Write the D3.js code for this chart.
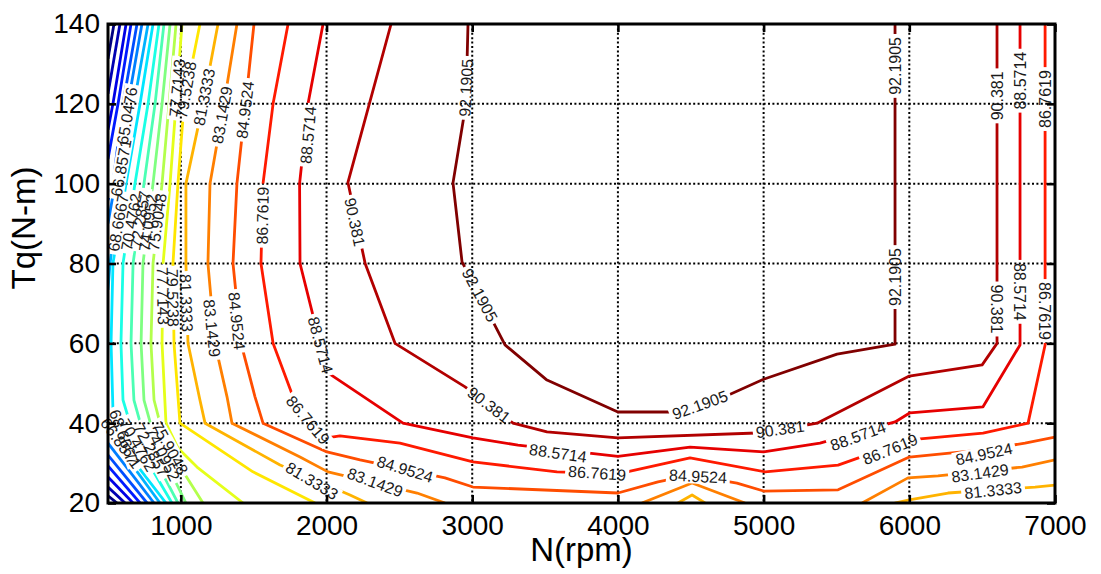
<!DOCTYPE html>
<html>
<head>
<meta charset="utf-8">
<script src="https://cdn.jsdelivr.net/npm/d3@7"></script>
<style>
  body { margin: 0; background: #fff; }
  svg { font-family: "Liberation Sans", Arial, Helvetica, sans-serif; }
</style>
</head>
<body>
<div id="chart"></div>
<script>
// contour levels (efficiency, %)
const levels = [56, 57.8095, 59.619, 61.4286, 63.2381, 65.0476, 66.8571, 68.6667, 70.4762,
  72.2857, 74.0952, 75.9048, 77.7143, 79.5238, 81.3333, 83.1429, 84.9524, 86.7619,
  88.5714, 90.381, 92.1905];

const xTicks = [1000, 2000, 3000, 4000, 5000, 6000, 7000];
const yTicks = [20, 40, 60, 80, 100, 120, 140];

// contour segments, points are [N (rpm), Tq (N-m)]
const c56 = [[[541, 140], [500, 131.3]], [[500, 21.8], [562, 20]]];
const c57 = [[[582, 140], [500, 122.5]], [[500, 24], [617, 20]]];
const c59 = [[[624, 140], [534, 120], [500, 113.5]], [[500, 26.5], [672, 20]]];
const c61 = [[[658, 140], [569, 120], [500, 106.2]], [[500, 29.3], [720, 20]]];
const c63 = [[[699, 140], [603, 120], [534, 100], [500, 95.9]], [[500, 32], [768, 20]]];
const c65 = [[[733, 140], [637, 120], [548, 100], [500, 90]], [[500, 35], [816, 20]]];
const c66 = [[[775, 140], [678, 120], [582, 100], [514, 80], [500, 73.4]], [[500, 37.8], [857, 20]]];
const c68 = [[[809, 140], [720, 120], [624, 100], [534, 80], [521, 60], [534, 43.3], [617, 33.3], [898, 20]]];
const c70 = [[[850, 140], [775, 120], [685, 100], [603, 80], [589, 60], [603, 45.8], [685, 35.8], [939, 20]]];
const c72 = [[[884, 140], [823, 120], [747, 100], [672, 80], [658, 60], [678, 45.8], [754, 35.8], [980, 20]]];
const c74 = [[[926, 140], [871, 120], [809, 100], [740, 80], [727, 60], [747, 45.8], [823, 35.8], [1035, 20]]];
const c75 = [[[967, 140], [919, 120], [871, 100], [809, 80], [795, 60], [816, 45.8], [878, 37], [1008, 28.3], [1152, 20]]];
const c77 = [[[1008, 140], [967, 120], [926, 100], [878, 80], [871, 60], [898, 40], [980, 33.8], [1111, 29], [1427, 20]]];
const c79 = [[[1131, 140], [1022, 120], [980, 100], [946, 80], [953, 60], [994, 40], [1495, 27.8], [1921, 20]]];
const c81 = [
  [[1255, 140], [1152, 120], [1035, 100], [1035, 80], [1049, 60], [1131, 45.8], [1166, 40], [1681, 29.5], [2161, 22], [2278, 20]],
  [[4412, 20], [4509, 22], [4598, 20]],
  [[5900, 20], [6000, 20.8], [6266, 22.5], [6863, 24], [7000, 24.5]]
];
const c83 = [
  [[1385, 140], [1296, 120], [1200, 100], [1186, 80], [1234, 60], [1317, 46.6], [1351, 40], [1818, 31.5], [2010, 27.8], [2621, 22.5], [2813, 20]],
  [[4165, 20], [4509, 25], [4872, 20]],
  [[5676, 20], [5991, 26.3], [6197, 26.8], [6774, 29], [7000, 30.8]]
];
const c84 = [[[1502, 140], [1444, 120], [1385, 100], [1358, 80], [1413, 60], [1509, 46.6], [1564, 40], [2003, 32.8],
  [2230, 30.8], [2813, 26.3], [3005, 24], [4000, 22.5], [4275, 25.3], [4500, 27], [4817, 25], [5000, 23], [5511, 23.3],
  [6000, 31.5], [6500, 33.3], [6794, 35], [7000, 36.5]]];
const c86 = [[[1736, 140], [1633, 120], [1564, 100], [1550, 80], [1633, 60], [1770, 46.6], [2003, 36.3], [2092, 36.8],
  [2504, 35], [3005, 30.3], [3582, 27.8], [4000, 27.3], [4495, 31.3], [5010, 27.8], [5511, 29.5], [6000, 35.8],
  [6506, 37.5], [6815, 40], [6932, 59.6], [6932, 140]]];
const c88 = [[[1976, 140], [1873, 120], [1815, 100], [1818, 80], [1955, 60], [2010, 52.6], [2525, 40], [3005, 36.3],
  [3314, 34.5], [4000, 31.7], [4495, 34], [5000, 32.8], [5387, 35], [5902, 40.3], [6005, 42.6], [6506, 44.1],
  [6760, 59.6], [6760, 140]]];
const c90 = [[[2443, 140], [2147, 100.3], [2265, 80], [2470, 60], [2951, 49.1], [3280, 40], [3513, 37.8], [4000, 36.3],
  [5000, 37.6], [5367, 40], [6000, 51.8], [6500, 54.6], [6602, 60], [6602, 140]]];
const c92 = [[[2971, 140], [2957, 120], [2868, 100.2], [2930, 80.4], [3225, 59.6], [3513, 50.8], [4000, 42.8],
  [4500, 42.8], [5000, 51], [5504, 57.3], [5902, 59.8], [5902, 140]]];

const contours = [c56, c57, c59, c61, c63, c65, c66, c68, c70, c72, c74, c75, c77, c79, c81, c83, c84, c86, c88, c90, c92];

// inline labels: [level, N, Tq, angle]
const labels = [
  [65.0476, 630, 117, -80], [66.8571, 589, 104, -80], [68.6667, 569, 90.2, -80], [70.4762, 658, 90.4, -80],
  [72.2857, 720, 91, -81], [74.0952, 775, 90.2, -82], [75.9048, 836, 90.4, -82],
  [77.7143, 974, 124, -85], [79.5238, 1035, 123.5, -80], [81.3333, 1159, 121.7, -79], [83.1429, 1282, 117.2, -80],
  [84.9524, 1440, 118.5, -83], [86.7619, 1560, 92, -89], [88.5714, 1873, 112.2, -85], [90.381, 2195, 90.4, 78],
  [92.1905, 2957, 124, -87],
  [77.7143, 878, 71.9, 89], [79.5238, 946, 71.4, 89], [81.3333, 1039, 70.1, 88], [83.1429, 1214, 63.8, 84],
  [84.9524, 1385, 65.6, 84], [86.7619, 1873, 40.8, 50], [88.5714, 1959, 59.6, 75], [90.381, 3115, 44.6, 37],
  [92.1905, 3053, 72.1, 62],
  [81.3333, 1900, 25.6, 31], [83.1429, 2333, 25.2, 20], [84.9524, 2539, 28.5, 17], [86.7619, 3857, 27.5, 4],
  [88.5714, 3589, 32.5, 8], [90.381, 5113, 38.5, -8], [92.1905, 4563, 44.6, -20], [84.9524, 4550, 26.7, 3],
  [86.7619, 5868, 33.5, -22], [88.5714, 5648, 36.8, -20], [84.9524, 6513, 32.3, -12], [83.1429, 6485, 27.5, -8],
  [81.3333, 6575, 23.2, -6],
  [92.1905, 5902, 76.6, -90], [92.1905, 5902, 129.5, -90], [90.381, 6602, 68.6, 90], [90.381, 6602, 122, -90],
  [88.5714, 6760, 72.9, 90], [88.5714, 6760, 125.8, -90], [86.7619, 6932, 68.1, 90], [86.7619, 6932, 121.2, -90],
  [75.9048, 926, 33.8, 61], [74.0952, 877, 32.3, 64], [72.2857, 796, 33.3, 62], [70.4762, 705, 34.5, 60],
  [68.6667, 610, 36.5, 70], [66.8571, 590, 35, 54]
];

const width = 1101;
const height = 574;
const margin = { top: 24, right: 46, bottom: 71, left: 108 };
const innerWidth = width - margin.left - margin.right;
const innerHeight = height - margin.top - margin.bottom;

const xScale = d3.scaleLinear().domain([500, 7000]).range([0, innerWidth]);
const yScale = d3.scaleLinear().domain([20, 140]).range([innerHeight, 0]);
const levelScale = d3.scaleLinear().domain(d3.extent(levels)).range([0, 1]);

// MATLAB jet colormap
function jet(t) {
  const c = v => Math.max(0, Math.min(1, v));
  return d3.rgb(255 * c(1.5 - Math.abs(4 * t - 3)), 255 * c(1.5 - Math.abs(4 * t - 2)), 255 * c(1.5 - Math.abs(4 * t - 1))).toString();
}

const svg = d3.select('#chart').append('svg')
  .attr('width', width)
  .attr('height', height);

const defs = svg.append('defs');
defs.append('clipPath').attr('id', 'plot-clip')
  .append('rect').attr('width', innerWidth).attr('height', innerHeight);

const mask = defs.append('mask')
  .attr('id', 'label-gaps')
  .attr('maskUnits', 'userSpaceOnUse')
  .attr('x', -20).attr('y', -20)
  .attr('width', innerWidth + 40).attr('height', innerHeight + 40);
mask.append('rect')
  .attr('x', -20).attr('y', -20)
  .attr('width', innerWidth + 40).attr('height', innerHeight + 40)
  .attr('fill', 'white');

const g = svg.append('g')
  .attr('transform', `translate(${margin.left},${margin.top})`);

// dotted grid
const grid = g.append('g').attr('stroke', '#000').attr('stroke-width', 2).attr('stroke-dasharray', '2,2.4');
grid.selectAll('.gx').data(xTicks).enter().append('line')
  .attr('x1', d => xScale(d)).attr('x2', d => xScale(d))
  .attr('y1', 0).attr('y2', innerHeight);
grid.selectAll('.gy').data(yTicks).enter().append('line')
  .attr('x1', 0).attr('x2', innerWidth)
  .attr('y1', d => yScale(d)).attr('y2', d => yScale(d));

// contour lines
const line = d3.line().x(d => xScale(d[0])).y(d => yScale(d[1]));
const contourG = g.append('g').attr('clip-path', 'url(#plot-clip)')
  .append('g').attr('mask', 'url(#label-gaps)');

levels.forEach((lv, i) => {
  contourG.selectAll(null)
    .data(contours[i])
    .enter()
    .append('path')
    .attr('d', line)
    .attr('fill', 'none')
    .attr('stroke', jet(levelScale(lv)))
    .attr('stroke-width', 2.8)
    .attr('stroke-linejoin', 'round');
});

// inline labels, each one cuts a gap in its line
const labelG = g.append('g');
labels.forEach(([lv, n, tq, ang]) => {
  const tr = `translate(${xScale(n)},${yScale(tq)}) rotate(${ang})`;
  const t = labelG.append('text')
    .attr('transform', tr)
    .attr('text-anchor', 'middle')
    .attr('dy', '0.36em')
    .attr('fill', '#1a1a1a')
    .style('font-size', '16px')
    .text(lv);
  const w = t.node().getComputedTextLength();
  mask.append('rect')
    .attr('transform', tr)
    .attr('x', -w / 2 - 3).attr('y', -7.5)
    .attr('width', w + 6).attr('height', 15)
    .attr('fill', 'black');
});

// axes with inward ticks on all four sides
function styleAxis(sel) {
  sel.select('.domain').remove();
  sel.selectAll('.tick line').attr('stroke', '#000').attr('stroke-width', 2.6);
  sel.selectAll('.tick text').attr('fill', '#000').style('font-size', '28px');
}

g.append('g')
  .attr('transform', `translate(0,${innerHeight})`)
  .call(d3.axisBottom(xScale).tickValues(xTicks).tickFormat(d3.format('d')).tickSize(-8).tickPadding(12))
  .call(styleAxis);

g.append('g')
  .call(d3.axisLeft(yScale).tickValues(yTicks).tickFormat(d3.format('d')).tickSize(-8).tickPadding(8))
  .call(styleAxis);

g.append('g')
  .call(d3.axisTop(xScale).tickValues(xTicks).tickSize(-8).tickFormat(''))
  .call(styleAxis);

g.append('g')
  .attr('transform', `translate(${innerWidth},0)`)
  .call(d3.axisRight(yScale).tickValues(yTicks).tickSize(-8).tickFormat(''))
  .call(styleAxis);

g.append('rect')
  .attr('width', innerWidth)
  .attr('height', innerHeight)
  .attr('fill', 'none')
  .attr('stroke', '#000')
  .attr('stroke-width', 3);

// axis titles
g.append('text')
  .attr('x', innerWidth / 2)
  .attr('y', innerHeight + 58)
  .attr('text-anchor', 'middle')
  .style('font-size', '33px')
  .text('N(rpm)');

svg.append('text')
  .attr('transform', 'translate(35,228) rotate(-90)')
  .attr('text-anchor', 'middle')
  .style('font-size', '33px')
  .text('Tq(N-m)');
</script>
</body>
</html>
